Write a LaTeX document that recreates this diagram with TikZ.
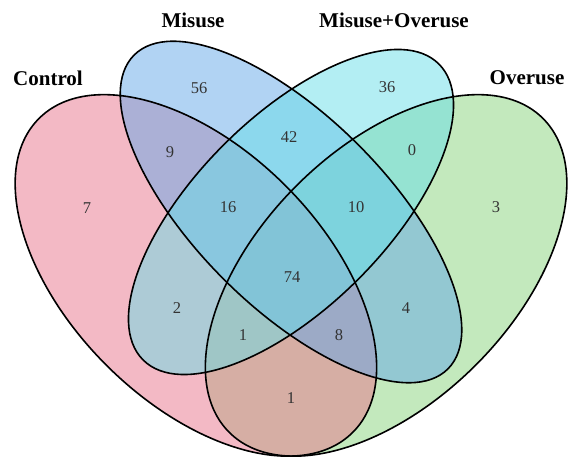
\documentclass[tikz,border=0pt]{standalone}
\usepackage{fontspec}
\setmainfont{Liberation Serif}
\definecolor{cC}{RGB}{233,117,141}
\definecolor{cM}{RGB}{100,168,232}
\definecolor{cMO}{RGB}{105,222,232}
\definecolor{cO}{RGB}{137,213,125}
\tikzset{
  setfill/.style={fill=#1, fill opacity=0.5, draw=none},
  setline/.style={draw=black, line width=1.6pt},
  setlabel/.style={font=\fontsize{21}{23}\selectfont\bfseries, text=black},
  count/.style={font=\fontsize{16.5}{18}\selectfont, text=black!80}
}
\begin{document}
\begin{tikzpicture}[x=1pt,y=1pt]
\useasboundingbox (0,0) rectangle (568,457);
\fill[white] (0,0) rectangle (568,457);
% fills (order: Overuse, Control, Misuse, Misuse+Overuse)
\fill[setfill=cO, rotate around={45:(386.1,181.6)}] (386.1,181.6) ellipse [x radius=221.9pt, y radius=126.8pt];
\fill[setfill=cC, rotate around={135:(195.9,181.6)}] (195.9,181.6) ellipse [x radius=221.9pt, y radius=126.8pt];
\fill[setfill=cM, rotate around={135:(291,245)}] (291,245) ellipse [x radius=221.9pt, y radius=95.1pt];
\fill[setfill=cMO, rotate around={45:(291,245)}] (291,245) ellipse [x radius=209.2pt, y radius=95.1pt];
% outlines
\draw[setline, rotate around={45:(386.1,181.6)}] (386.1,181.6) ellipse [x radius=221.9pt, y radius=126.8pt];
\draw[setline, rotate around={135:(195.9,181.6)}] (195.9,181.6) ellipse [x radius=221.9pt, y radius=126.8pt];
\draw[setline, rotate around={135:(291,245)}] (291,245) ellipse [x radius=221.9pt, y radius=95.1pt];
\draw[setline, rotate around={45:(291,245)}] (291,245) ellipse [x radius=209.2pt, y radius=95.1pt];
% set labels
\node[setlabel] (lC) at (48,379) {Control};
\node[setlabel] (lM) at (193,437) {Misuse};
\node[setlabel] (lMO) at (394,437) {Misuse+Overuse};
\node[setlabel] (lO) at (527,379) {Overuse};
% counts
\node[count] (n56) at (199,369) {56};
\node[count] (n9) at (170,305) {9};
\node[count] (n7) at (87,249) {7};
\node[count] (n16) at (228,250) {16};
\node[count] (n36) at (387,370) {36};
\node[count] (n42) at (289,320) {42};
\node[count] (n0) at (412,307) {0};
\node[count] (n10) at (356,250) {10};
\node[count] (n3) at (496,250) {3};
\node[count] (n74) at (292,180) {74};
\node[count] (n2) at (177,149) {2};
\node[count] (n1a) at (243,122) {1};
\node[count] (n8) at (339,122) {8};
\node[count] (n4) at (406,149) {4};
\node[count] (n1b) at (291,59) {1};
\end{tikzpicture}
\end{document}
